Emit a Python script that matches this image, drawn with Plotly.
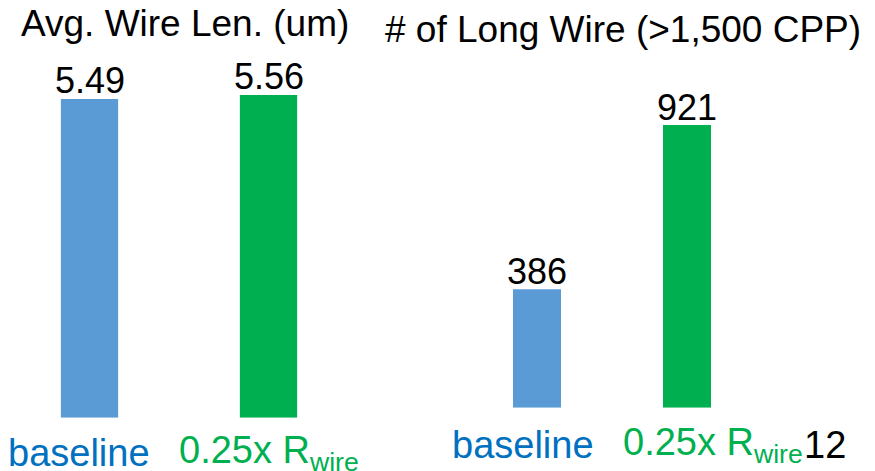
import plotly.graph_objects as go

# ---- data ----
categories = ["baseline", "0.25x R_wire"]
avg_wire_len = [5.49, 5.56]
long_wire_count = [386, 921]
left_title = "Avg. Wire Len. (um)"
right_title = "# of Long Wire (>1,500 CPP)"
cat_labels = ["baseline", "0.25x R<sub>wire</sub>"]
page_number = "12"

BAR_COLORS = ["#5B9BD5", "#00B050"]
LABEL_COLORS = ["#0070C0", "#00B050"]
FONT = "Liberation Sans, Arial, sans-serif"
FS_TITLE = 37
FS_VALUE = 36
FS_LABEL = 38

W, H = 875, 471

fig = go.Figure()
fig.add_trace(go.Bar(
    x=categories, y=avg_wire_len, xaxis="x", yaxis="y",
    marker=dict(color=BAR_COLORS, line=dict(width=0)),
    showlegend=False, hoverinfo="skip"))
fig.add_trace(go.Bar(
    x=categories, y=long_wire_count, xaxis="x2", yaxis="y2",
    marker=dict(color=BAR_COLORS, line=dict(width=0)),
    showlegend=False, hoverinfo="skip"))

hidden = dict(showgrid=False, zeroline=False, showticklabels=False,
              showline=False, ticks="", fixedrange=True)

fig.update_layout(
    width=W, height=H, margin=dict(l=0, r=0, t=0, b=0),
    paper_bgcolor="white", plot_bgcolor="white",
    font=dict(family=FONT, size=FS_VALUE, color="black"),
    bargap=0.68,
    xaxis=dict(domain=[0, 358 / W], range=[-0.5, 1.5], anchor="y", **hidden),
    yaxis=dict(domain=[(H - 417.7) / H, 1], range=[0, 7.197], anchor="x", **hidden),
    xaxis2=dict(domain=[462 / W, 762 / W], range=[-0.5, 1.5], anchor="y2", **hidden),
    yaxis2=dict(domain=[(H - 407.7) / H, 1], range=[0, 1328.2], anchor="x2", **hidden),
)

ann = []
# titles
ann.append(dict(text=left_title, xref="paper", yref="paper", x=185 / W, y=(H - 24) / H,
                xanchor="center", yanchor="middle", showarrow=False,
                font=dict(family=FONT, size=FS_TITLE, color="black")))
ann.append(dict(text=right_title, xref="paper", yref="paper", x=622.5 / W, y=(H - 30) / H,
                xanchor="center", yanchor="middle", showarrow=False,
                font=dict(family=FONT, size=FS_TITLE, color="black")))
# value labels
for i, c in enumerate(categories):
    ann.append(dict(text=f"{avg_wire_len[i]:.2f}", xref="x", yref="y", x=c, y=avg_wire_len[i],
                    xanchor="center", yanchor="bottom", yshift=-4, showarrow=False,
                    font=dict(family=FONT, size=FS_VALUE, color="black")))
    ann.append(dict(text=f"{long_wire_count[i]:d}", xref="x2", yref="y2", x=c, y=long_wire_count[i],
                    xanchor="center", yanchor="bottom", yshift=-5, showarrow=False,
                    font=dict(family=FONT, size=FS_VALUE, color="black")))
# category labels
left_shifts = [-11, 0]
right_shifts = [-14.5, 25.5]
for i, c in enumerate(categories):
    ann.append(dict(text=cat_labels[i], xref="x", yref="paper", x=c, y=(H - 453) / H,
                    xanchor="center", yanchor="middle", xshift=left_shifts[i], showarrow=False,
                    font=dict(family=FONT, size=FS_LABEL, color=LABEL_COLORS[i])))
    ann.append(dict(text=cat_labels[i], xref="x2", yref="paper", x=c, y=(H - 445) / H,
                    xanchor="center", yanchor="middle", xshift=right_shifts[i], showarrow=False,
                    font=dict(family=FONT, size=FS_LABEL, color=LABEL_COLORS[i])))
ann.append(dict(text=page_number, xref="paper", yref="paper", x=802 / W, y=(H - 445) / H,
                xanchor="left", yanchor="middle", showarrow=False,
                font=dict(family=FONT, size=FS_LABEL, color="black")))
fig.update_layout(annotations=ann)

fig.write_html("out.html")
